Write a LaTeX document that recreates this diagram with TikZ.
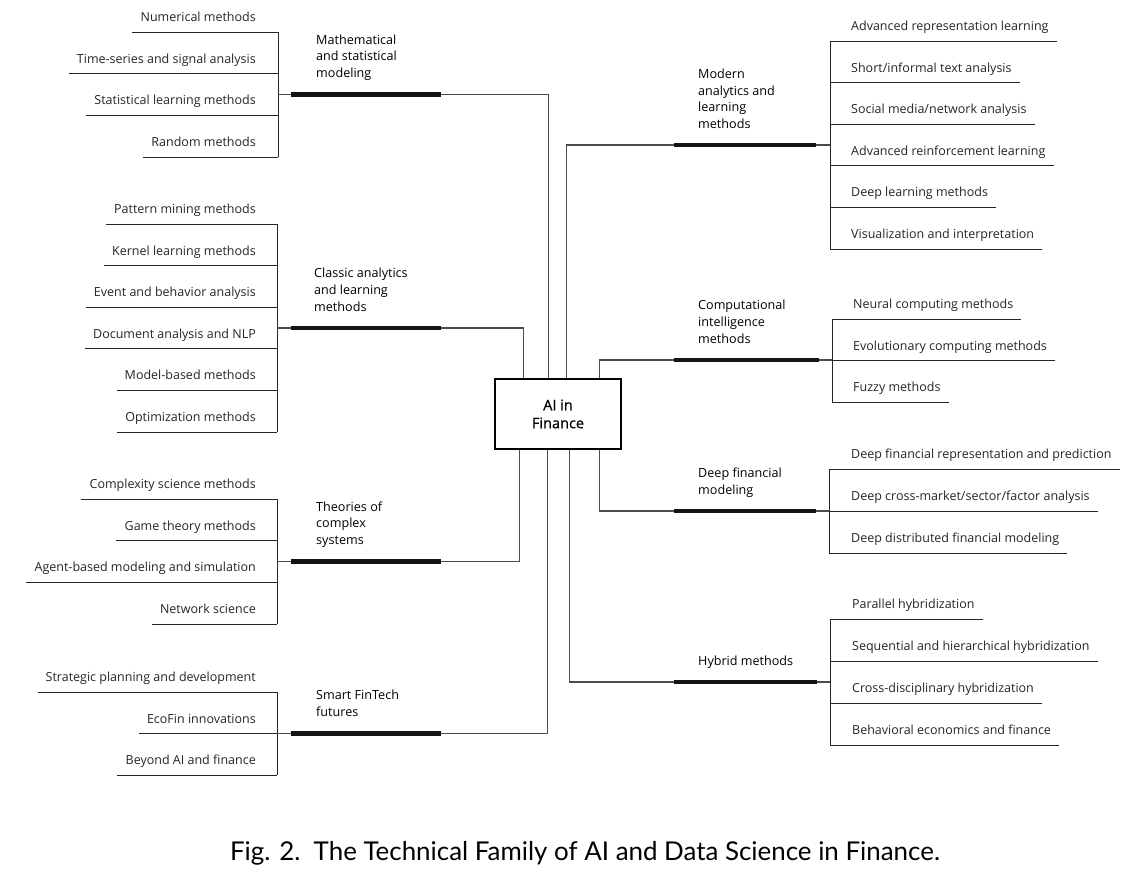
\documentclass[tikz,border=0pt]{standalone}
\usepackage{fontspec}
\setmainfont{Open Sans}
\newfontfamily\capfont{Lato}
\newfontfamily\boxfont[FakeBold=0.6]{Open Sans}

% #1 name, #2 bracket x, #3 first underline y, #4 underline spacing, #5 count, #6 items, #7 bar y
\newcommand\leftfamily[7]{%
  \foreach \t [count=\i] in {#6} {
    \node[item, anchor=base east] (#1-\i) at (256, {#3+(\i-1)*#4-10.5}) {\t};
    \coordinate (#1-b\i) at (#2, {#3+(\i-1)*#4});
    \draw[uline] ([xshift=-8pt,yshift=-10.5pt]#1-\i.base west) -- (#1-b\i);
  }
  \draw[uline] (#1-b1) -- (#1-b#5);
  \coordinate (#1-bm) at (#2, #7);
  \coordinate (#1-barL) at (291, #7);
  \coordinate (#1-barR) at (441, #7);
  \draw[link] (#1-bm) -- (#1-barL);
  \draw[bar] (#1-barL) -- (#1-barR);
}
% #1 name, #2 bracket x, #3 first underline y, #4 spacing, #5 count, #6 items, #7 bar y, #8 text x, #9 bar right x
\newcommand\rightfamily[9]{%
  \foreach \t [count=\i] in {#6} {
    \node[item, anchor=base west] (#1-\i) at (#8, {#3+(\i-1)*#4-10.5}) {\t};
    \coordinate (#1-b\i) at (#2, {#3+(\i-1)*#4});
    \draw[uline] (#1-b\i) -- ([xshift=8pt,yshift=-10.5pt]#1-\i.base east);
  }
  \draw[uline] (#1-b1) -- (#1-b#5);
  \coordinate (#1-bm) at (#2, #7);
  \coordinate (#1-barL) at (674, #7);
  \coordinate (#1-barR) at (#9, #7);
  \draw[link] (#1-barR) -- (#1-bm);
  \draw[bar] (#1-barL) -- (#1-barR);
}

\begin{document}
\begin{tikzpicture}[x=1pt,y=-1pt,
  item/.style={inner sep=0pt, font=\fontsize{12.5}{15}\selectfont, text=black!85},
  cat/.style={inner sep=0pt, align=left, font=\fontsize{12.6}{16.7}\selectfont, text=black},
  uline/.style={line width=0.9pt, black!85},
  link/.style={line width=1.1pt, black!70},
  bar/.style={line width=4.6pt, black!92},
  ]
\useasboundingbox[fill=white] (0,0) rectangle (1135,880);

% central node
\node[draw, line width=2.4pt, minimum width=126pt, minimum height=70pt, inner sep=0pt,
      align=center, font=\boxfont\fontsize{14.5}{18}\selectfont] (ai) at (558,414) {AI in\\Finance};

% left families (label anchor: baseline of the last line)
\leftfamily{math}{278}{32}{41.67}{4}{Numerical methods,Time-series and signal analysis,Statistical learning methods,Random methods}{94.5}
\node[cat, anchor=base west] (mathL) at (316, 77.5) {Mathematical\\and statistical\\modeling};

\leftfamily{cls}{277}{224}{41.6}{6}{Pattern mining methods,Kernel learning methods,Event and behavior analysis,Document analysis and NLP,Model-based methods,Optimization methods}{328}
\node[cat, anchor=base west] (clsL) at (314, 311) {Classic analytics\\and learning\\methods};

\leftfamily{thy}{277}{499}{41.67}{4}{Complexity science methods,Game theory methods,Agent-based modeling and simulation,Network science}{561.5}
\node[cat, anchor=base west] (thyL) at (316, 544.5) {Theories of\\complex\\systems};

\leftfamily{sft}{277}{692}{41.5}{3}{Strategic planning and development,EcoFin innovations,Beyond AI and finance}{733.5}
\node[cat, anchor=base west] (sftL) at (316, 716.5) {Smart FinTech\\futures};

% right families
\rightfamily{mod}{830}{41}{41.6}{6}{Advanced representation learning,Short/informal text analysis,Social media/network analysis,Advanced reinforcement learning,Deep learning methods,Visualization and interpretation}{145}{851}{816}
\node[cat, anchor=base west] (modL) at (698, 128.5) {Modern\\analytics and\\learning\\methods};

\rightfamily{cmp}{832}{319}{41.5}{3}{Neural computing methods,Evolutionary computing methods,Fuzzy methods}{360}{853}{819}
\node[cat, anchor=base west] (cmpL) at (698, 343) {Computational\\intelligence\\methods};

\rightfamily{dfm}{829}{469}{42}{3}{Deep financial representation and prediction,Deep cross-market/sector/factor analysis,Deep distributed financial modeling}{511}{851}{816}
\node[cat, anchor=base west] (dfmL) at (698, 494) {Deep financial\\modeling};

\rightfamily{hyb}{830}{619}{42}{4}{Parallel hybridization,Sequential and hierarchical hybridization,Cross-disciplinary hybridization,Behavioral economics and finance}{682}{852}{817}
\node[cat, anchor=base west] (hybL) at (698, 665) {Hybrid methods};

% trunk connectors to the central node
\draw[link] (math-barR) -| ([xshift=55pt]ai.north west);
\draw[link] (cls-barR) -| ([xshift=30pt]ai.north west);
\draw[link] (thy-barR) -| ([xshift=26pt]ai.south west);
\draw[link] (sft-barR) -| ([xshift=54pt]ai.south west);
\draw[link] ([xshift=73pt]ai.north west) |- (mod-barL);
\draw[link] ([xshift=106pt]ai.north west) |- (cmp-barL);
\draw[link] ([xshift=106pt]ai.south west) |- (dfm-barL);
\draw[link] ([xshift=76pt]ai.south west) |- (hyb-barL);

% caption
\node[inner sep=0pt, anchor=base, font=\capfont\fontsize{25.9}{30}\selectfont] (cap) at (585,860)
  {Fig. 2.\ \ The Technical Family of AI and Data Science in Finance.};
\end{tikzpicture}
\end{document}
